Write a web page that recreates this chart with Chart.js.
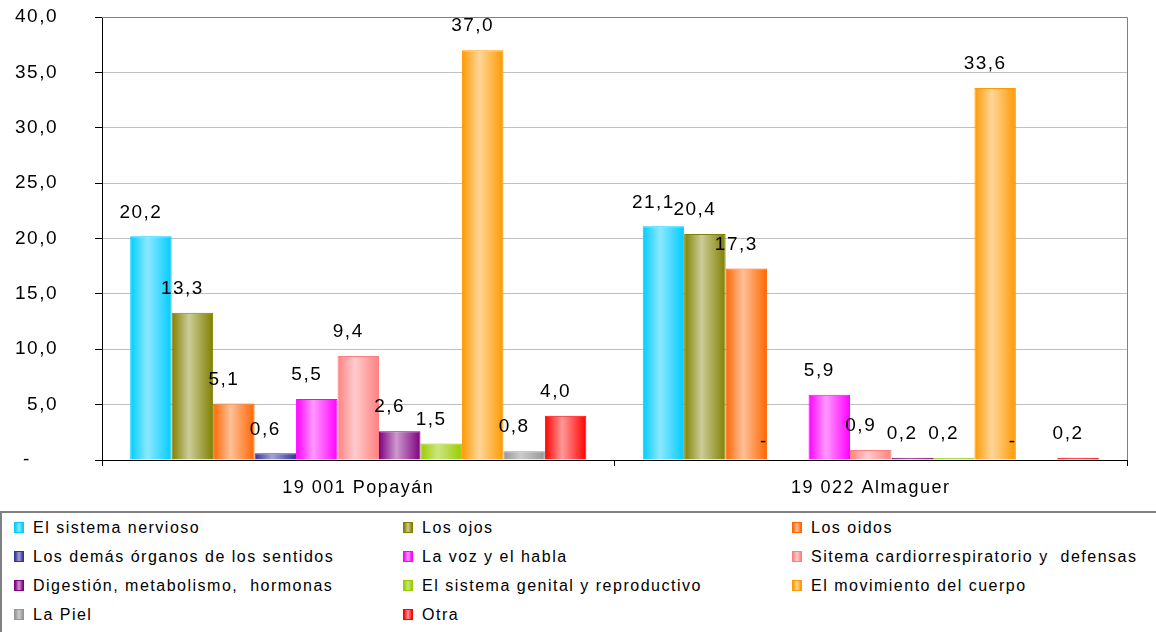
<!DOCTYPE html>
<html>
<head>
<meta charset="utf-8">
<script src="https://cdn.jsdelivr.net/npm/chart.js@4.4.1/dist/chart.umd.min.js"></script>
<style>
  body { margin: 0; background: #fff; font-family: "Liberation Sans", Arial, sans-serif; }
  #wrap { position: relative; width: 1156px; height: 632px; overflow: hidden; }
  #chartBox { position: absolute; left: 0; top: 0; width: 1156px; height: 506px; }
  #legend {
    position: absolute; left: 0; top: 511px; width: 1160px; height: 125px;
    border-top: 2px solid #808080; border-left: 2px solid #808080;
    box-sizing: border-box; padding-left: 12px;
    display: grid; grid-template-columns: 389px 389px 389px; grid-auto-rows: 29px;
  }
  .item { display: flex; align-items: center; font-size: 16px; letter-spacing: 1.5px; color: #000; white-space: pre; }
  .sw { width: 8px; height: 9px; border: 1px solid; margin-right: 9px; flex: none; }
</style>
</head>
<body>
<div id="wrap">
  <div id="chartBox"><canvas id="chart"></canvas></div>
  <div id="legend"></div>
</div>
<script>
// Data
const categories = ["19 001 Popayán", "19 022 Almaguer"];
const seriesNames = [
  "El sistema nervioso",
  "Los ojos",
  "Los oidos",
  "Los demás órganos de los sentidos",
  "La voz y el habla",
  "Sitema cardiorrespiratorio y  defensas",
  "Digestión, metabolismo,  hormonas",
  "El sistema genital y reproductivo",
  "El movimiento del cuerpo",
  "La Piel",
  "Otra",
];
const popayan = [20.2, 13.3, 5.1, 0.6, 5.5, 9.4, 2.6, 1.5, 37.0, 0.8, 4.0];
const almaguer = [21.1, 20.4, 17.3, 0, 5.9, 0.9, 0.2, 0.2, 33.6, 0, 0.2];
const yMin = 0;
const yMax = 40;
const yStep = 5;

// Colours (edge colour and lighter centre of each bar)
const baseColors = ["#00CCFF", "#808000", "#FF6600", "#333399", "#FF00FF", "#FF8080",
  "#800080", "#99CC00", "#FF9900", "#969696", "#FF0000"];
const lightColors = ["#8CE8FF", "#CCCC99", "#FFC099", "#A3A3D6", "#FF99FF", "#FFCCCC",
  "#CC99CC", "#CCE680", "#FFD699", "#CCCCCC", "#FF9999"];

const CAT_PCT = 0.89;

function fmt(v) {
  return v.toFixed(1).replace(".", ",");
}

function barGradient(ctx, i) {
  const chart = ctx.chart;
  const x = chart.scales.x;
  if (!x || !chart.chartArea || ctx.dataIndex === undefined) return baseColors[i];
  const n = chart.data.datasets.length;
  const catW = x.width / chart.data.labels.length;
  const groupW = catW * CAT_PCT;
  const barW = groupW / n;
  const left = x.getPixelForValue(ctx.dataIndex) - groupW / 2 + ctx.datasetIndex * barW;
  const g = chart.ctx.createLinearGradient(left, 0, left + barW, 0);
  g.addColorStop(0, baseColors[i]);
  g.addColorStop(0.42, lightColors[i]);
  g.addColorStop(1, baseColors[i]);
  return g;
}

const datasets = seriesNames.map((name, i) => ({
  label: name,
  data: [popayan[i], almaguer[i]],
  backgroundColor: (ctx) => barGradient(ctx, i),
  borderColor: baseColors[i],
  borderWidth: 1,
  barPercentage: 1,
  categoryPercentage: CAT_PCT,
}));

// letter spacing to match the wide text of the original
const spacingPlugin = {
  id: "spacing",
  beforeDraw(chart) {
    chart.ctx.letterSpacing = "1.5px";
  },
};

// value labels above the bars
const valueLabels = {
  id: "valueLabels",
  afterDatasetsDraw(chart) {
    const ctx = chart.ctx;
    ctx.save();
    ctx.font = "19px 'Liberation Sans', Arial, sans-serif";
    ctx.fillStyle = "#000";
    ctx.textAlign = "center";
    ctx.textBaseline = "middle";
    chart.data.datasets.forEach((ds, di) => {
      chart.getDatasetMeta(di).data.forEach((el, j) => {
        const v = ds.data[j];
        if (v === 0) {
          ctx.fillText("-", el.x - 24, el.y - 18);
        } else {
          ctx.fillText(fmt(v), el.x - 10, el.y - 24);
        }
      });
    });
    ctx.restore();
  },
};

// grey plot frame on top and right
const plotFrame = {
  id: "plotFrame",
  afterDraw(chart) {
    const a = chart.chartArea;
    const ctx = chart.ctx;
    ctx.save();
    ctx.strokeStyle = "#808080";
    ctx.lineWidth = 1;
    ctx.beginPath();
    ctx.moveTo(a.left, a.top + 0.5);
    ctx.lineTo(Math.round(a.right) + 0.5, a.top + 0.5);
    ctx.lineTo(Math.round(a.right) + 0.5, a.bottom);
    ctx.stroke();
    ctx.restore();
  },
};

const chart = new Chart(document.getElementById("chart"), {
  type: "bar",
  data: { labels: categories, datasets: datasets },
  options: {
    responsive: true,
    maintainAspectRatio: false,
    animation: false,
    layout: { padding: { top: 17, right: 29, left: 0, bottom: 0 } },
    plugins: {
      legend: { display: false },
      tooltip: { enabled: false },
    },
    scales: {
      x: {
        offset: true,
        afterFit(scale) {
          scale.height = 46;
          scale.paddingLeft = 0;
          scale.paddingRight = 0;
        },
        grid: { display: true, drawOnChartArea: false, tickLength: 6, tickColor: "#000" },
        border: { color: "#000", width: 1 },
        ticks: {
          color: "#000",
          padding: 11,
          font: { family: "'Liberation Sans', Arial, sans-serif", size: 18 },
        },
      },
      y: {
        min: yMin,
        max: yMax,
        afterFit(scale) {
          scale.width = 102;
          scale.paddingTop = 0;
          scale.paddingBottom = 0;
        },
        grid: {
          color: (c) => (c.tick && c.tick.value === yMax ? "#808080" : c.tick && c.tick.value === 0 ? "#000" : "#C0C0C0"),
          tickLength: 7,
          tickColor: "#000",
        },
        border: { color: "#000", width: 1 },
        ticks: {
          stepSize: yStep,
          color: "#000",
          padding: 37,
          font: { family: "'Liberation Sans', Arial, sans-serif", size: 19 },
          callback: (v) => (v === 0 ? "-    " : fmt(v)),
        },
      },
    },
  },
  plugins: [spacingPlugin, valueLabels, plotFrame],
});

// HTML legend built from the datasets
const legend = document.getElementById("legend");
chart.data.datasets.forEach((ds, i) => {
  const item = document.createElement("div");
  item.className = "item";
  const sw = document.createElement("span");
  sw.className = "sw";
  sw.style.borderColor = baseColors[i];
  sw.style.background = "linear-gradient(to right, " + baseColors[i] + ", " + lightColors[i] + ", " + baseColors[i] + ")";
  item.appendChild(sw);
  item.appendChild(document.createTextNode(ds.label));
  legend.appendChild(item);
});
</script>
</body>
</html>
